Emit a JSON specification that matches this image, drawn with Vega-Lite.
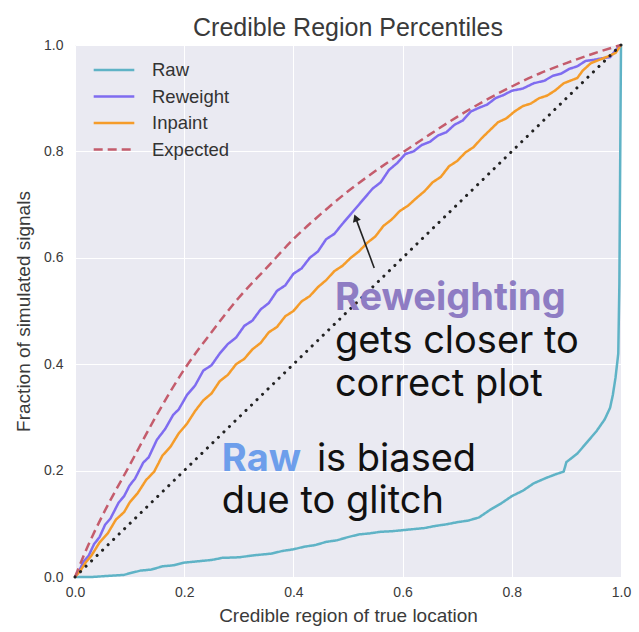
{
  "$schema": "https://vega.github.io/schema/vega-lite/v6.json",
  "width": 546,
  "height": 532,
  "autosize": {"type": "none"},
  "padding": {"left": 75, "top": 45, "right": 18, "bottom": 55},
  "background": "white",
  "title": {
    "text": "Credible Region Percentiles",
    "font": "Liberation Sans",
    "fontSize": 25,
    "fontWeight": "normal",
    "color": "#3a3a3a",
    "anchor": "middle",
    "offset": -3
  },
  "config": {
    "view": {"fill": "#eaeaf2", "stroke": null},
    "axis": {
      "grid": true,
      "gridColor": "#ffffff",
      "gridWidth": 1,
      "domain": false,
      "ticks": false,
      "labelFlush": false,
      "labelFont": "Liberation Sans",
      "labelFontSize": 14,
      "labelColor": "#3a3a3a",
      "titleFont": "Liberation Sans",
      "titleFontSize": 19,
      "titleFontWeight": "normal",
      "titleColor": "#3a3a3a"
    },
    "legend": {
      "orient": "none",
      "legendX": 17,
      "legendY": 15,
      "padding": 0,
      "symbolType": "stroke",
      "symbolSize": 1650,
      "symbolStrokeWidth": 2.5,
      "clipHeight": 20,
      "rowPadding": 6.5,
      "labelOffset": 16,
      "labelFont": "Liberation Sans",
      "labelFontSize": 18.5,
      "labelColor": "#333333",
      "title": null
    }
  },
  "datasets": {
    "curves": [
      {"series": "Raw", "x": 0, "y": 0},
      {"series": "Raw", "x": 0.03, "y": 0.0},
      {"series": "Raw", "x": 0.06, "y": 0.002},
      {"series": "Raw", "x": 0.09, "y": 0.004},
      {"series": "Raw", "x": 0.1, "y": 0.007},
      {"series": "Raw", "x": 0.12, "y": 0.012},
      {"series": "Raw", "x": 0.14, "y": 0.014},
      {"series": "Raw", "x": 0.16, "y": 0.02},
      {"series": "Raw", "x": 0.18, "y": 0.022},
      {"series": "Raw", "x": 0.2, "y": 0.027},
      {"series": "Raw", "x": 0.22, "y": 0.029},
      {"series": "Raw", "x": 0.25, "y": 0.032},
      {"series": "Raw", "x": 0.27, "y": 0.036},
      {"series": "Raw", "x": 0.3, "y": 0.037},
      {"series": "Raw", "x": 0.33, "y": 0.041},
      {"series": "Raw", "x": 0.36, "y": 0.044},
      {"series": "Raw", "x": 0.38, "y": 0.049},
      {"series": "Raw", "x": 0.4, "y": 0.052},
      {"series": "Raw", "x": 0.42, "y": 0.057},
      {"series": "Raw", "x": 0.44, "y": 0.06},
      {"series": "Raw", "x": 0.46, "y": 0.066},
      {"series": "Raw", "x": 0.48, "y": 0.069},
      {"series": "Raw", "x": 0.5, "y": 0.075},
      {"series": "Raw", "x": 0.52, "y": 0.08},
      {"series": "Raw", "x": 0.54, "y": 0.082},
      {"series": "Raw", "x": 0.56, "y": 0.085},
      {"series": "Raw", "x": 0.58, "y": 0.086},
      {"series": "Raw", "x": 0.6, "y": 0.088},
      {"series": "Raw", "x": 0.62, "y": 0.09},
      {"series": "Raw", "x": 0.64, "y": 0.092},
      {"series": "Raw", "x": 0.66, "y": 0.096},
      {"series": "Raw", "x": 0.68, "y": 0.099},
      {"series": "Raw", "x": 0.7, "y": 0.103},
      {"series": "Raw", "x": 0.72, "y": 0.106},
      {"series": "Raw", "x": 0.74, "y": 0.112},
      {"series": "Raw", "x": 0.76, "y": 0.126},
      {"series": "Raw", "x": 0.78, "y": 0.138},
      {"series": "Raw", "x": 0.8, "y": 0.152},
      {"series": "Raw", "x": 0.82, "y": 0.162},
      {"series": "Raw", "x": 0.84, "y": 0.176},
      {"series": "Raw", "x": 0.86, "y": 0.185},
      {"series": "Raw", "x": 0.88, "y": 0.193},
      {"series": "Raw", "x": 0.895, "y": 0.198},
      {"series": "Raw", "x": 0.9, "y": 0.216},
      {"series": "Raw", "x": 0.92, "y": 0.232},
      {"series": "Raw", "x": 0.94, "y": 0.256},
      {"series": "Raw", "x": 0.955, "y": 0.274},
      {"series": "Raw", "x": 0.97, "y": 0.296},
      {"series": "Raw", "x": 0.98, "y": 0.318},
      {"series": "Raw", "x": 0.985, "y": 0.342},
      {"series": "Raw", "x": 0.99, "y": 0.375},
      {"series": "Raw", "x": 0.995, "y": 0.42},
      {"series": "Raw", "x": 0.997, "y": 0.55},
      {"series": "Raw", "x": 0.998, "y": 0.7},
      {"series": "Raw", "x": 0.999, "y": 0.85},
      {"series": "Raw", "x": 1, "y": 1},

      {"series": "Reweight", "x": 0, "y": 0},
      {"series": "Reweight", "x": 0.008, "y": 0.012},
      {"series": "Reweight", "x": 0.015, "y": 0.028},
      {"series": "Reweight", "x": 0.025, "y": 0.04},
      {"series": "Reweight", "x": 0.035, "y": 0.062},
      {"series": "Reweight", "x": 0.045, "y": 0.075},
      {"series": "Reweight", "x": 0.055, "y": 0.098},
      {"series": "Reweight", "x": 0.065, "y": 0.11},
      {"series": "Reweight", "x": 0.08, "y": 0.14},
      {"series": "Reweight", "x": 0.09, "y": 0.152},
      {"series": "Reweight", "x": 0.1, "y": 0.172},
      {"series": "Reweight", "x": 0.11, "y": 0.185},
      {"series": "Reweight", "x": 0.125, "y": 0.215},
      {"series": "Reweight", "x": 0.135, "y": 0.225},
      {"series": "Reweight", "x": 0.15, "y": 0.258},
      {"series": "Reweight", "x": 0.165, "y": 0.278},
      {"series": "Reweight", "x": 0.18, "y": 0.305},
      {"series": "Reweight", "x": 0.19, "y": 0.315},
      {"series": "Reweight", "x": 0.205, "y": 0.342},
      {"series": "Reweight", "x": 0.22, "y": 0.36},
      {"series": "Reweight", "x": 0.235, "y": 0.388},
      {"series": "Reweight", "x": 0.25, "y": 0.398},
      {"series": "Reweight", "x": 0.265, "y": 0.42},
      {"series": "Reweight", "x": 0.28, "y": 0.438},
      {"series": "Reweight", "x": 0.295, "y": 0.45},
      {"series": "Reweight", "x": 0.31, "y": 0.472},
      {"series": "Reweight", "x": 0.325, "y": 0.482},
      {"series": "Reweight", "x": 0.34, "y": 0.503},
      {"series": "Reweight", "x": 0.355, "y": 0.515},
      {"series": "Reweight", "x": 0.37, "y": 0.538},
      {"series": "Reweight", "x": 0.385, "y": 0.548},
      {"series": "Reweight", "x": 0.4, "y": 0.57},
      {"series": "Reweight", "x": 0.415, "y": 0.58},
      {"series": "Reweight", "x": 0.43, "y": 0.6},
      {"series": "Reweight", "x": 0.445, "y": 0.612},
      {"series": "Reweight", "x": 0.46, "y": 0.635},
      {"series": "Reweight", "x": 0.475, "y": 0.645},
      {"series": "Reweight", "x": 0.49, "y": 0.664},
      {"series": "Reweight", "x": 0.505, "y": 0.682},
      {"series": "Reweight", "x": 0.52, "y": 0.7},
      {"series": "Reweight", "x": 0.53, "y": 0.712},
      {"series": "Reweight", "x": 0.545, "y": 0.73},
      {"series": "Reweight", "x": 0.56, "y": 0.742},
      {"series": "Reweight", "x": 0.575, "y": 0.765},
      {"series": "Reweight", "x": 0.59, "y": 0.778},
      {"series": "Reweight", "x": 0.605, "y": 0.795},
      {"series": "Reweight", "x": 0.62, "y": 0.8},
      {"series": "Reweight", "x": 0.635, "y": 0.812},
      {"series": "Reweight", "x": 0.65, "y": 0.818},
      {"series": "Reweight", "x": 0.665, "y": 0.83},
      {"series": "Reweight", "x": 0.68, "y": 0.836},
      {"series": "Reweight", "x": 0.695, "y": 0.85},
      {"series": "Reweight", "x": 0.71, "y": 0.858},
      {"series": "Reweight", "x": 0.725, "y": 0.875},
      {"series": "Reweight", "x": 0.74, "y": 0.882},
      {"series": "Reweight", "x": 0.755, "y": 0.888},
      {"series": "Reweight", "x": 0.77, "y": 0.9},
      {"series": "Reweight", "x": 0.785, "y": 0.906},
      {"series": "Reweight", "x": 0.8, "y": 0.914},
      {"series": "Reweight", "x": 0.82, "y": 0.918},
      {"series": "Reweight", "x": 0.84, "y": 0.928},
      {"series": "Reweight", "x": 0.86, "y": 0.933},
      {"series": "Reweight", "x": 0.875, "y": 0.942},
      {"series": "Reweight", "x": 0.89, "y": 0.946},
      {"series": "Reweight", "x": 0.905, "y": 0.955},
      {"series": "Reweight", "x": 0.92, "y": 0.96},
      {"series": "Reweight", "x": 0.935, "y": 0.97},
      {"series": "Reweight", "x": 0.95, "y": 0.972},
      {"series": "Reweight", "x": 0.965, "y": 0.975},
      {"series": "Reweight", "x": 0.98, "y": 0.977},
      {"series": "Reweight", "x": 0.99, "y": 0.99},
      {"series": "Reweight", "x": 1, "y": 1},

      {"series": "Inpaint", "x": 0, "y": 0},
      {"series": "Inpaint", "x": 0.01, "y": 0.012},
      {"series": "Inpaint", "x": 0.02, "y": 0.028},
      {"series": "Inpaint", "x": 0.03, "y": 0.04},
      {"series": "Inpaint", "x": 0.045, "y": 0.065},
      {"series": "Inpaint", "x": 0.06, "y": 0.082},
      {"series": "Inpaint", "x": 0.075, "y": 0.108},
      {"series": "Inpaint", "x": 0.09, "y": 0.122},
      {"series": "Inpaint", "x": 0.1, "y": 0.14},
      {"series": "Inpaint", "x": 0.115, "y": 0.158},
      {"series": "Inpaint", "x": 0.13, "y": 0.182},
      {"series": "Inpaint", "x": 0.145, "y": 0.198},
      {"series": "Inpaint", "x": 0.16, "y": 0.228},
      {"series": "Inpaint", "x": 0.175, "y": 0.245},
      {"series": "Inpaint", "x": 0.19, "y": 0.27},
      {"series": "Inpaint", "x": 0.205, "y": 0.288},
      {"series": "Inpaint", "x": 0.22, "y": 0.312},
      {"series": "Inpaint", "x": 0.235, "y": 0.332},
      {"series": "Inpaint", "x": 0.25, "y": 0.345},
      {"series": "Inpaint", "x": 0.265, "y": 0.368},
      {"series": "Inpaint", "x": 0.28, "y": 0.38},
      {"series": "Inpaint", "x": 0.295, "y": 0.4},
      {"series": "Inpaint", "x": 0.31, "y": 0.41},
      {"series": "Inpaint", "x": 0.325, "y": 0.428},
      {"series": "Inpaint", "x": 0.34, "y": 0.44},
      {"series": "Inpaint", "x": 0.355, "y": 0.46},
      {"series": "Inpaint", "x": 0.37, "y": 0.47},
      {"series": "Inpaint", "x": 0.385, "y": 0.49},
      {"series": "Inpaint", "x": 0.4, "y": 0.5},
      {"series": "Inpaint", "x": 0.415, "y": 0.518},
      {"series": "Inpaint", "x": 0.43, "y": 0.528},
      {"series": "Inpaint", "x": 0.445, "y": 0.545},
      {"series": "Inpaint", "x": 0.46, "y": 0.558},
      {"series": "Inpaint", "x": 0.475, "y": 0.575},
      {"series": "Inpaint", "x": 0.49, "y": 0.585},
      {"series": "Inpaint", "x": 0.505, "y": 0.6},
      {"series": "Inpaint", "x": 0.52, "y": 0.612},
      {"series": "Inpaint", "x": 0.535, "y": 0.628},
      {"series": "Inpaint", "x": 0.55, "y": 0.64},
      {"series": "Inpaint", "x": 0.565, "y": 0.66},
      {"series": "Inpaint", "x": 0.58, "y": 0.672},
      {"series": "Inpaint", "x": 0.595, "y": 0.688},
      {"series": "Inpaint", "x": 0.61, "y": 0.698},
      {"series": "Inpaint", "x": 0.625, "y": 0.712},
      {"series": "Inpaint", "x": 0.64, "y": 0.725},
      {"series": "Inpaint", "x": 0.655, "y": 0.742},
      {"series": "Inpaint", "x": 0.67, "y": 0.752},
      {"series": "Inpaint", "x": 0.685, "y": 0.772},
      {"series": "Inpaint", "x": 0.7, "y": 0.782},
      {"series": "Inpaint", "x": 0.715, "y": 0.798},
      {"series": "Inpaint", "x": 0.73, "y": 0.808},
      {"series": "Inpaint", "x": 0.745, "y": 0.825},
      {"series": "Inpaint", "x": 0.76, "y": 0.84},
      {"series": "Inpaint", "x": 0.775, "y": 0.855},
      {"series": "Inpaint", "x": 0.79, "y": 0.862},
      {"series": "Inpaint", "x": 0.805, "y": 0.875},
      {"series": "Inpaint", "x": 0.82, "y": 0.885},
      {"series": "Inpaint", "x": 0.835, "y": 0.89},
      {"series": "Inpaint", "x": 0.85, "y": 0.9},
      {"series": "Inpaint", "x": 0.865, "y": 0.905},
      {"series": "Inpaint", "x": 0.88, "y": 0.915},
      {"series": "Inpaint", "x": 0.895, "y": 0.928},
      {"series": "Inpaint", "x": 0.91, "y": 0.934},
      {"series": "Inpaint", "x": 0.92, "y": 0.938},
      {"series": "Inpaint", "x": 0.93, "y": 0.952},
      {"series": "Inpaint", "x": 0.945, "y": 0.966},
      {"series": "Inpaint", "x": 0.96, "y": 0.972},
      {"series": "Inpaint", "x": 0.975, "y": 0.978},
      {"series": "Inpaint", "x": 0.99, "y": 0.985},
      {"series": "Inpaint", "x": 1, "y": 1},

      {"series": "Expected", "x": 0, "y": 0},
      {"series": "Expected", "x": 0.02, "y": 0.05},
      {"series": "Expected", "x": 0.05, "y": 0.115},
      {"series": "Expected", "x": 0.1, "y": 0.21},
      {"series": "Expected", "x": 0.15, "y": 0.305},
      {"series": "Expected", "x": 0.2, "y": 0.39},
      {"series": "Expected", "x": 0.25, "y": 0.46},
      {"series": "Expected", "x": 0.3, "y": 0.525},
      {"series": "Expected", "x": 0.35, "y": 0.58},
      {"series": "Expected", "x": 0.4, "y": 0.635},
      {"series": "Expected", "x": 0.45, "y": 0.682},
      {"series": "Expected", "x": 0.5, "y": 0.725},
      {"series": "Expected", "x": 0.55, "y": 0.763},
      {"series": "Expected", "x": 0.6, "y": 0.798},
      {"series": "Expected", "x": 0.65, "y": 0.832},
      {"series": "Expected", "x": 0.7, "y": 0.865},
      {"series": "Expected", "x": 0.75, "y": 0.895},
      {"series": "Expected", "x": 0.8, "y": 0.922},
      {"series": "Expected", "x": 0.85, "y": 0.946},
      {"series": "Expected", "x": 0.9, "y": 0.966},
      {"series": "Expected", "x": 0.95, "y": 0.984},
      {"series": "Expected", "x": 1, "y": 1}
    ],
    "diagonal": [
      {"x": 0, "y": 0},
      {"x": 1, "y": 1}
    ],
    "arrow": [
      {"x": 0.548, "y": 0.581, "x2": 0.514, "y2": 0.675}
    ],
    "notes": [
      {"x": 0.476, "y": 0.502, "text": "Reweighting", "style": "purple"},
      {"x": 0.269, "y": 0.199, "text": "Raw", "style": "blue"},
      {"x": 0.476, "y": 0.421, "text": "gets closer to", "style": "plain"},
      {"x": 0.476, "y": 0.34, "text": "correct plot", "style": "plain"},
      {"x": 0.443, "y": 0.199, "text": "is biased", "style": "plain"},
      {"x": 0.269, "y": 0.12, "text": "due to glitch", "style": "plain"}
    ]
  },
  "layer": [
    {
      "data": {"name": "curves"},
      "transform": [{"filter": "datum.series !== 'Expected'"}],
      "mark": {"type": "line", "strokeWidth": 2.5, "strokeJoin": "round"},
      "encoding": {
        "x": {
          "field": "x",
          "type": "quantitative",
          "scale": {"domain": [0, 1], "nice": false},
          "axis": {
            "title": "Credible region of true location",
            "values": [0, 0.2, 0.4, 0.6, 0.8, 1.0],
            "format": ".1f",
            "labelPadding": 8,
            "titlePadding": 7
          }
        },
        "y": {
          "field": "y",
          "type": "quantitative",
          "scale": {"domain": [0, 1], "nice": false},
          "axis": {
            "title": "Fraction of simulated signals",
            "values": [0, 0.2, 0.4, 0.6, 0.8, 1.0],
            "format": ".1f",
            "labelPadding": 12,
            "titlePadding": 10
          }
        },
        "color": {
          "field": "series",
          "type": "nominal",
          "scale": {
            "domain": ["Raw", "Reweight", "Inpaint", "Expected"],
            "range": ["#5fb3c6", "#7f6cf0", "#f59c2a", "#c45c6c"]
          },
          "legend": {"title": null}
        },
        "strokeDash": {
          "field": "series",
          "type": "nominal",
          "scale": {
            "domain": ["Raw", "Reweight", "Inpaint", "Expected"],
            "range": [[1, 0], [1, 0], [1, 0], [9, 5]]
          },
          "legend": {"title": null}
        },
        "order": {"field": "x", "type": "quantitative"}
      }
    },
    {
      "data": {"name": "curves"},
      "transform": [{"filter": "datum.series === 'Expected'"}],
      "mark": {"type": "line", "strokeWidth": 2.5, "interpolate": "monotone"},
      "encoding": {
        "x": {"field": "x", "type": "quantitative"},
        "y": {"field": "y", "type": "quantitative"},
        "color": {"field": "series", "type": "nominal"},
        "strokeDash": {"field": "series", "type": "nominal"},
        "order": {"field": "x", "type": "quantitative"}
      }
    },
    {
      "data": {"name": "diagonal"},
      "mark": {
        "type": "line",
        "color": "#222222",
        "strokeWidth": 3,
        "strokeCap": "round",
        "strokeDash": [0.1, 7.6]
      },
      "encoding": {
        "x": {"field": "x", "type": "quantitative"},
        "y": {"field": "y", "type": "quantitative"}
      }
    },
    {
      "data": {"name": "arrow"},
      "mark": {"type": "rule", "color": "#222222", "strokeWidth": 1.6},
      "encoding": {
        "x": {"field": "x", "type": "quantitative"},
        "y": {"field": "y", "type": "quantitative"},
        "x2": {"field": "x2"},
        "y2": {"field": "y2"}
      }
    },
    {
      "data": {"name": "arrow"},
      "mark": {
        "type": "point",
        "shape": "triangle-up",
        "filled": true,
        "color": "#222222",
        "size": 70,
        "angle": 340,
        "opacity": 1
      },
      "encoding": {
        "x": {"field": "x2", "type": "quantitative"},
        "y": {"field": "y2", "type": "quantitative"}
      }
    },
    {
      "data": {"name": "notes"},
      "transform": [{"filter": "datum.style === 'purple'"}],
      "mark": {
        "type": "text",
        "font": "Inter",
        "fontSize": 38,
        "fontWeight": "bold",
        "color": "#8e7cc3",
        "align": "left",
        "baseline": "alphabetic"
      },
      "encoding": {
        "x": {"field": "x", "type": "quantitative"},
        "y": {"field": "y", "type": "quantitative"},
        "text": {"field": "text"}
      }
    },
    {
      "data": {"name": "notes"},
      "transform": [{"filter": "datum.style === 'blue'"}],
      "mark": {
        "type": "text",
        "font": "Inter",
        "fontSize": 38,
        "fontWeight": "bold",
        "color": "#6d9eeb",
        "align": "left",
        "baseline": "alphabetic"
      },
      "encoding": {
        "x": {"field": "x", "type": "quantitative"},
        "y": {"field": "y", "type": "quantitative"},
        "text": {"field": "text"}
      }
    },
    {
      "data": {"name": "notes"},
      "transform": [{"filter": "datum.style === 'plain'"}],
      "mark": {
        "type": "text",
        "font": "Inter",
        "fontSize": 38,
        "fontWeight": "normal",
        "color": "#111111",
        "align": "left",
        "baseline": "alphabetic"
      },
      "encoding": {
        "x": {"field": "x", "type": "quantitative"},
        "y": {"field": "y", "type": "quantitative"},
        "text": {"field": "text"}
      }
    }
  ]
}
